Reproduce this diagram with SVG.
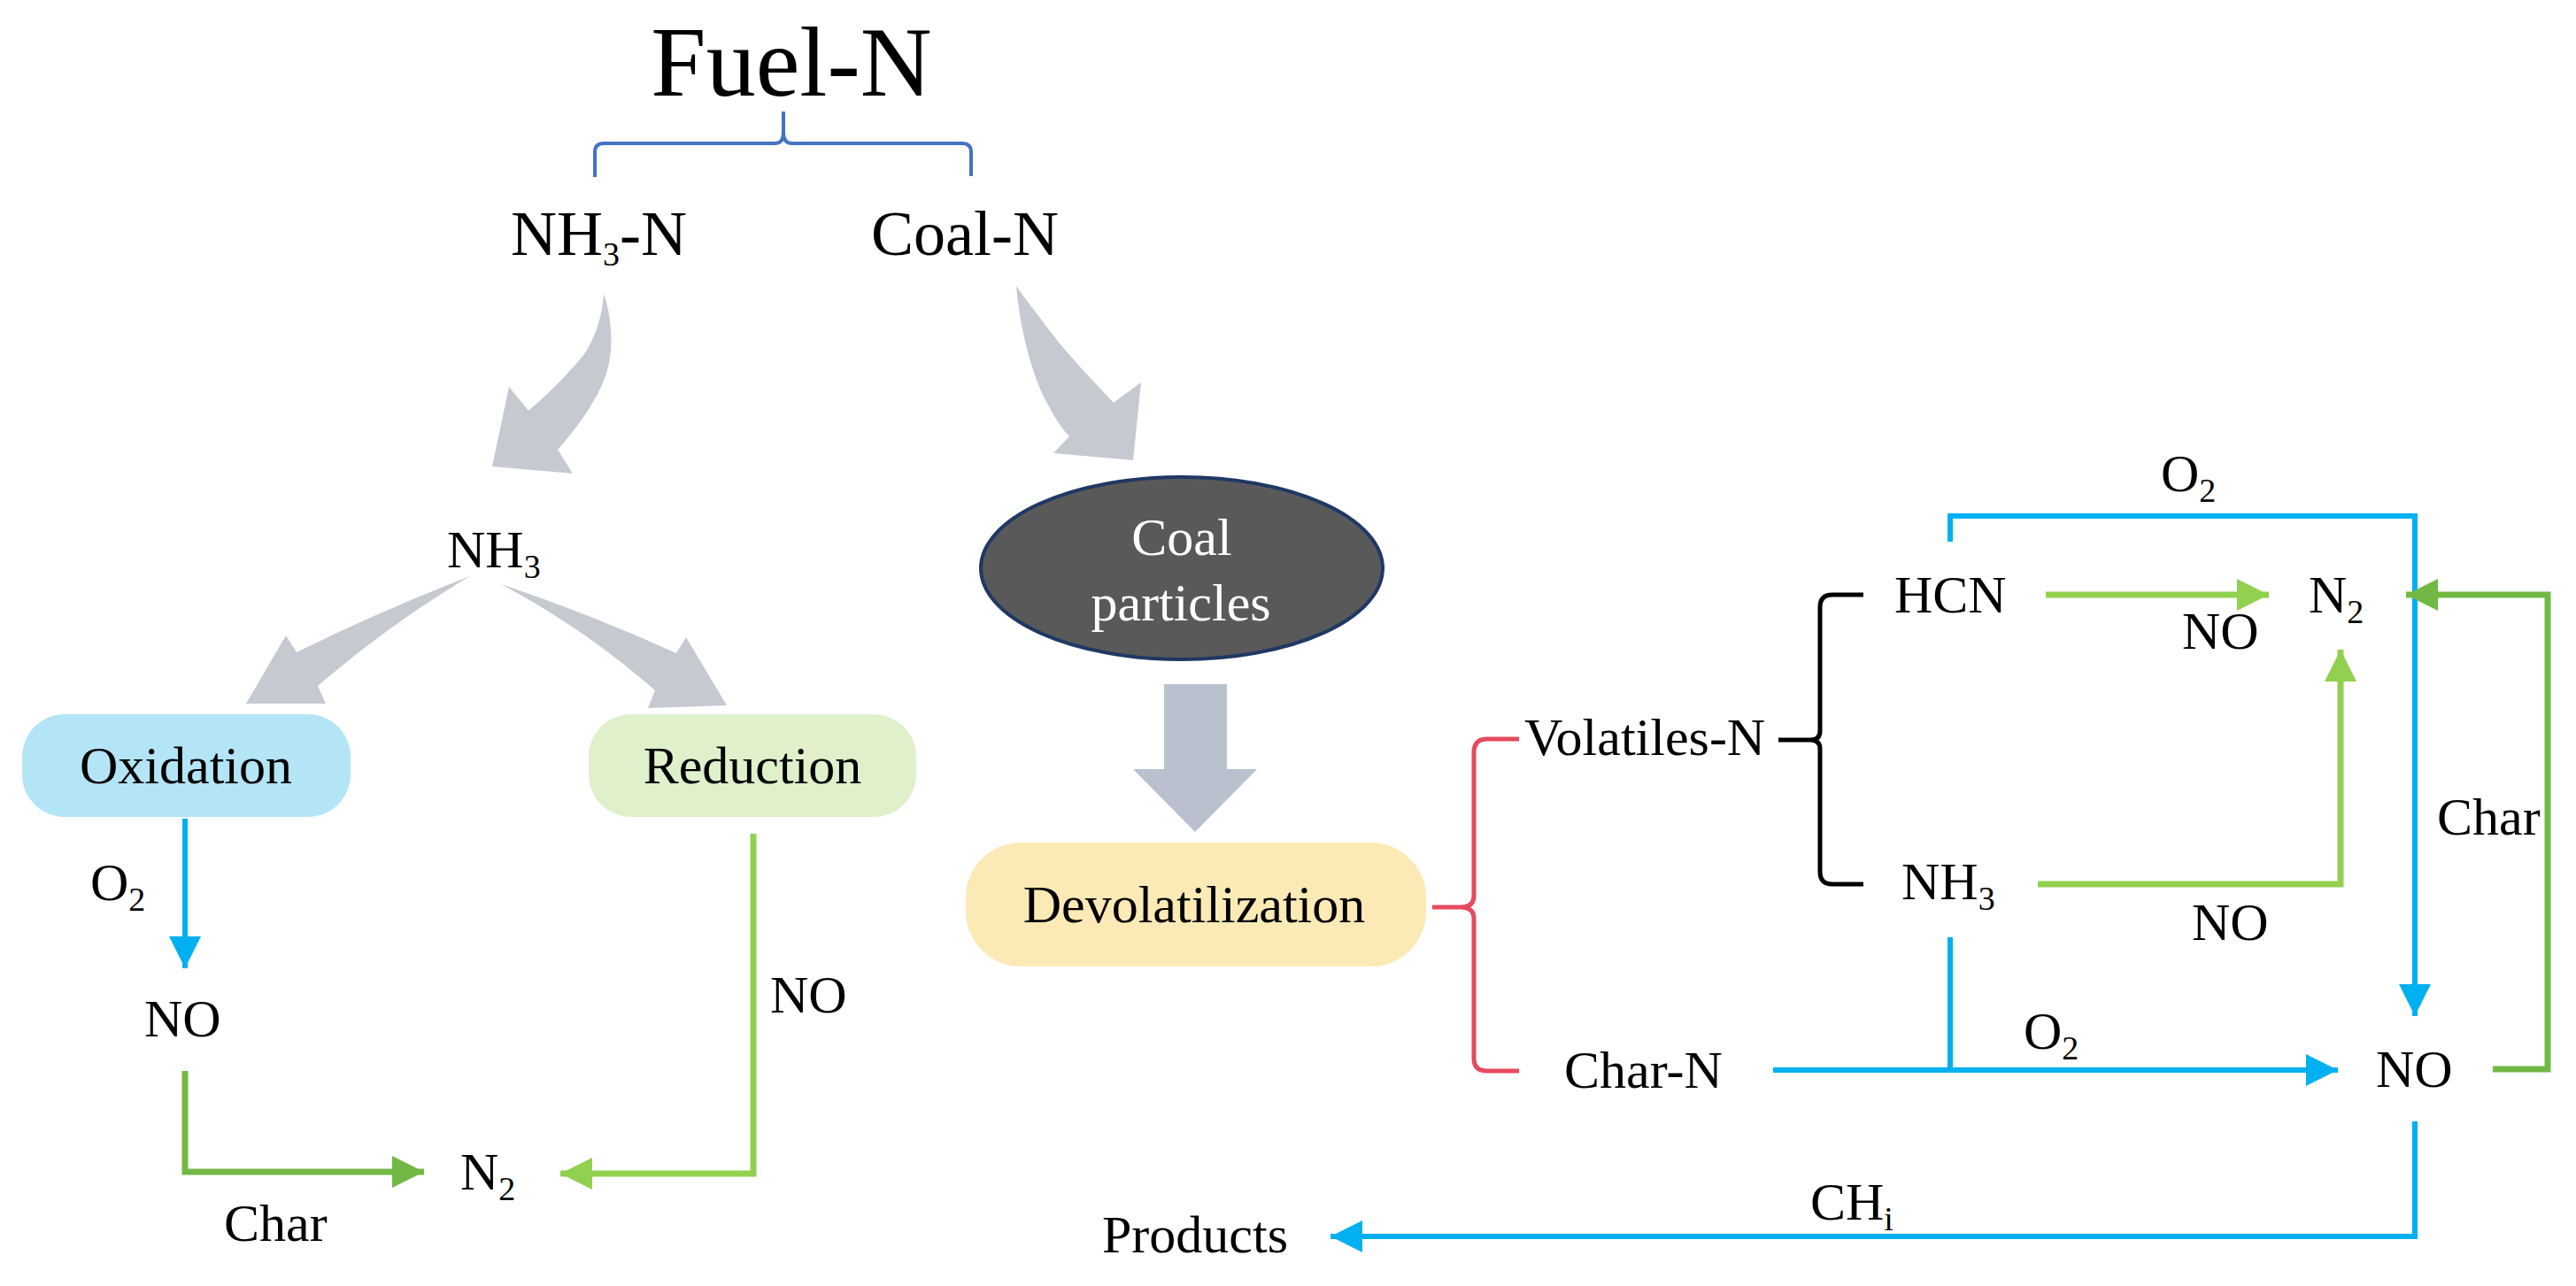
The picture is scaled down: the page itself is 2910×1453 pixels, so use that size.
<svg xmlns="http://www.w3.org/2000/svg" width="2910" height="1453" viewBox="0 0 2910 1453">
<style>
.t{font-family:"Liberation Serif","Times New Roman",serif;font-size:60px;fill:#000}
.big{font-size:112px}
.mid{font-size:72px}
.w{fill:#fff}
.sub{font-size:38px}
.blue{fill:none;stroke:#00B0F0;stroke-width:6}
.lg{fill:none;stroke:#92D050;stroke-width:7}
.dg{fill:none;stroke:#72B844;stroke-width:7}
.gray{fill:#C5C9D0}
</style>
<defs>
<marker id="ab" markerUnits="userSpaceOnUse" markerWidth="36" markerHeight="36" refX="36" refY="18" orient="auto"><path d="M0,0 L36,18 L0,36 z" fill="#00B0F0"/></marker>
<marker id="alg" markerUnits="userSpaceOnUse" markerWidth="36" markerHeight="36" refX="36" refY="18" orient="auto"><path d="M0,0 L36,18 L0,36 z" fill="#92D050"/></marker>
<marker id="adg" markerUnits="userSpaceOnUse" markerWidth="36" markerHeight="36" refX="36" refY="18" orient="auto"><path d="M0,0 L36,18 L0,36 z" fill="#72B844"/></marker>
</defs>
<rect width="2910" height="1453" fill="#fff"/>

<g id="fuel-n"><text class="t big" x="894" y="108" text-anchor="middle">Fuel-N</text></g>
<g id="fuel-bracket"><path d="M672,200 V172 Q672,162 682,162 H875 Q885,162 885,150 V126 M885,150 Q885,162 895,162 H1087 Q1097,162 1097,172 V199" fill="none" stroke="#4472C4" stroke-width="4"/></g>
<g id="nh3-n"><text class="t mid" x="577" y="288">NH<tspan class="sub" font-size="44" dy="12">3</tspan><tspan dy="-12">-N</tspan></text></g>
<g id="coal-n"><text class="t mid" x="984" y="288">Coal-N</text></g>

<g id="gray-arrows">
<path class="gray" d="M682,332 C692,360 694,400 683,427 C675,450 655,480 630,508 L647,535 L556,527 L575,437 L597,464 C612,452 640,425 660,400 C672,382 680,360 682,332 Z"/>
<path class="gray" d="M1148,323 C1152,370 1165,420 1180,450 C1190,470 1200,485 1208,493 L1190,512 L1280,520 L1289,432 L1258,455 C1235,430 1205,400 1183,370 C1170,352 1158,338 1148,323 Z"/>
<path class="gray" d="M531,651 Q430,690 335,737 L323,718 L278,795 L368,795 L359,775 Q440,705 531,651 Z"/>
<path class="gray" d="M566,660 Q670,695 764,738 L775,720 L821,797 L732,800 L740,780 Q660,710 566,660 Z"/>
<path fill="#B9C0CE" d="M1315,773 H1386 V869 H1420 L1350,940 L1280,869 H1315 Z"/>
</g>

<g id="nh3-mid"><text class="t" x="505" y="641">NH<tspan class="sub" dy="12">3</tspan></text></g>
<g id="oxidation"><rect x="25" y="807" width="371" height="116" rx="48" fill="#B3E5F7"/><text class="t" x="210" y="885" text-anchor="middle">Oxidation</text></g>
<g id="reduction"><rect x="665" y="807" width="370" height="116" rx="48" fill="#DFF0CB"/><text class="t" x="850" y="885" text-anchor="middle">Reduction</text></g>
<g id="no-left"><text class="t" x="163" y="1171">NO</text></g>
<g id="n2-left"><text class="t" x="520" y="1344">N<tspan class="sub" dy="12">2</tspan></text></g>

<g id="coal-particles"><ellipse cx="1335" cy="642" rx="227" ry="103" fill="#595959" stroke="#1F3864" stroke-width="4"/><text class="t w" x="1335" y="627" text-anchor="middle">Coal</text><text class="t w" x="1334" y="701" text-anchor="middle">particles</text></g>
<g id="devolatilization"><rect x="1091" y="952" width="520" height="140" rx="62" fill="#FBEAB5"/><text class="t" x="1349" y="1042" text-anchor="middle">Devolatilization</text></g>
<g id="devol-bracket"><path d="M1716,835 H1680 Q1665,835 1665,850 V1012 Q1665,1025 1650,1025 H1618 M1650,1025 Q1665,1025 1665,1038 V1196 Q1665,1210 1680,1210 H1716" fill="none" stroke="#E64A5E" stroke-width="5"/></g>
<g id="volatiles-n"><text class="t" x="1722" y="853">Volatiles-N</text></g>
<g id="vol-bracket"><path d="M2105,672 H2070 Q2056,672 2056,686 V826 Q2056,836 2045,836 H2009 M2045,836 Q2056,836 2056,846 V985 Q2056,999 2070,999 H2105" fill="none" stroke="#000" stroke-width="5"/></g>
<g id="char-n"><text class="t" x="1767" y="1229">Char-N</text></g>
<g id="hcn"><text class="t" x="2140" y="692">HCN</text></g>
<g id="nh3-right"><text class="t" x="2148" y="1016">NH<tspan class="sub" dy="12">3</tspan></text></g>
<g id="n2-right"><text class="t" x="2608" y="692">N<tspan class="sub" dy="12">2</tspan></text></g>
<g id="no-right"><text class="t" x="2684" y="1228">NO</text></g>
<g id="products"><text class="t" x="1245" y="1415">Products</text></g>

<g id="connectors">
<path class="blue" d="M209,925 V1094" marker-end="url(#ab)"/>
<path class="dg" d="M209,1210 V1324 H479" marker-end="url(#adg)"/>
<path class="lg" d="M851,942 V1326 H633" marker-end="url(#alg)"/>
<path class="blue" d="M2203,612 V583 H2728 V1148" marker-end="url(#ab)"/>
<path class="blue" d="M2003,1209 H2641" marker-end="url(#ab)"/>
<path class="blue" d="M2203,1059 V1209"/>
<path class="blue" d="M2728,1267 V1397 H1503" marker-end="url(#ab)"/>
<path class="lg" d="M2311,672 H2563" marker-end="url(#alg)"/>
<path class="lg" d="M2302,999 H2644 V734" marker-end="url(#alg)"/>
<path class="dg" d="M2816,1208 H2878 V672 H2718" marker-end="url(#adg)"/>
</g>

<g id="labels">
<text class="t" x="102" y="1017">O<tspan class="sub" dy="12">2</tspan></text>
<text class="t" x="253" y="1402">Char</text>
<text class="t" x="870" y="1144">NO</text>
<text class="t" x="2441" y="555">O<tspan class="sub" dy="12">2</tspan></text>
<text class="t" x="2465" y="733">NO</text>
<text class="t" x="2476" y="1062">NO</text>
<text class="t" x="2753" y="943">Char</text>
<text class="t" x="2286" y="1185">O<tspan class="sub" dy="12">2</tspan></text>
<text class="t" x="2045" y="1378">CH<tspan class="sub" dy="12">i</tspan></text>
</g>
</svg>
